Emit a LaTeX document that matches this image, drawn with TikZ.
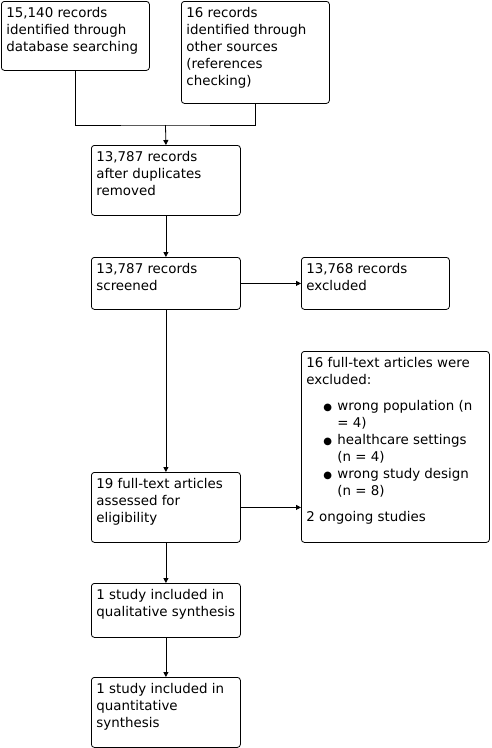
\documentclass[tikz,border=0pt]{standalone}
\usepackage{fontspec}
\setmainfont{DejaVu Sans}
\usetikzlibrary{arrows.meta, positioning}
\def\padx{5}
\def\pady{6}
\newcommand{\boxtext}[3]{\parbox[c][\dimexpr #2pt-2\dimexpr\pady pt\relax\relax][t]{\dimexpr #1pt-2\dimexpr\padx pt\relax\relax}{\raggedright #3}}
\newcommand{\exitem}[2]{\hspace*{17pt}\makebox[14pt][l]{\raisebox{0.5pt}{\fontsize{10}{10}\selectfont ●}}#1\\\hspace*{31pt}#2}

\begin{document}
\begin{tikzpicture}[x=1pt, y=-1pt, line width=0.8pt]
    \tikzstyle{stage}=[draw=black, rounded corners=3pt, anchor=north west, inner xsep=\padx pt, inner ysep=\pady pt, font=\fontsize{13.4}{17}\selectfont]
    \tikzstyle{flow}=[-{Triangle[length=5pt,width=5pt]}]

    \useasboundingbox (0,0) rectangle (491,748);

    % Identification
    \node[stage] (db) at (1,1) {\boxtext{148}{69}{15,140 records\\ identified through\\ database searching}};
    \node[stage] (other) at (181,1) {\boxtext{148}{102}{16 records\\ identified through\\ other sources\\ (references\\ checking)}};

    % Screening
    \node[stage] (dedup) at (91,145) {\boxtext{149}{70}{13,787 records\\ after duplicates\\ removed}};
    \node[stage] (screen) at (91,257) {\boxtext{149}{52}{13,787 records\\ screened}};
    \node[stage] (excl) at (301,257) {\boxtext{148}{52}{13,768 records\\ excluded}};

    % Eligibility
    \node[stage] (fulltext) at (91,472) {\boxtext{149}{70}{19 full-text articles\\ assessed for\\ eligibility}};
    \node[stage] (ftexcl) at (301,351) {\boxtext{188}{191}{16 full-text articles were\\ excluded:\\[9pt]
        \exitem{wrong population (n}{= 4)}\\
        \exitem{healthcare settings}{(n = 4)}\\
        \exitem{wrong study design}{(n = 8)}\\[9pt]
        2 ongoing studies}};

    % Included
    \node[stage] (qual) at (91,583) {\boxtext{149}{54}{1 study included in\\ qualitative synthesis}};
    \node[stage] (quant) at (91,677) {\boxtext{149}{70}{1 study included in\\ quantitative\\ synthesis}};

    % Merge the two sources
    \coordinate (merge) at (165.5,125);
    \draw (db.south) |- (merge) -| (other.south);
    \draw[flow] (merge) -- (dedup.north);

    % Main flow down the left column
    \foreach \source/\dest in {dedup/screen, screen/fulltext, fulltext/qual, qual/quant}
        \draw[flow] (\source) -- (\dest);

    % Exclusions to the right
    \draw[flow] (screen) -- (excl);
    \draw[flow] (fulltext.east) -- (fulltext.east -| ftexcl.west);
\end{tikzpicture}
\end{document}
